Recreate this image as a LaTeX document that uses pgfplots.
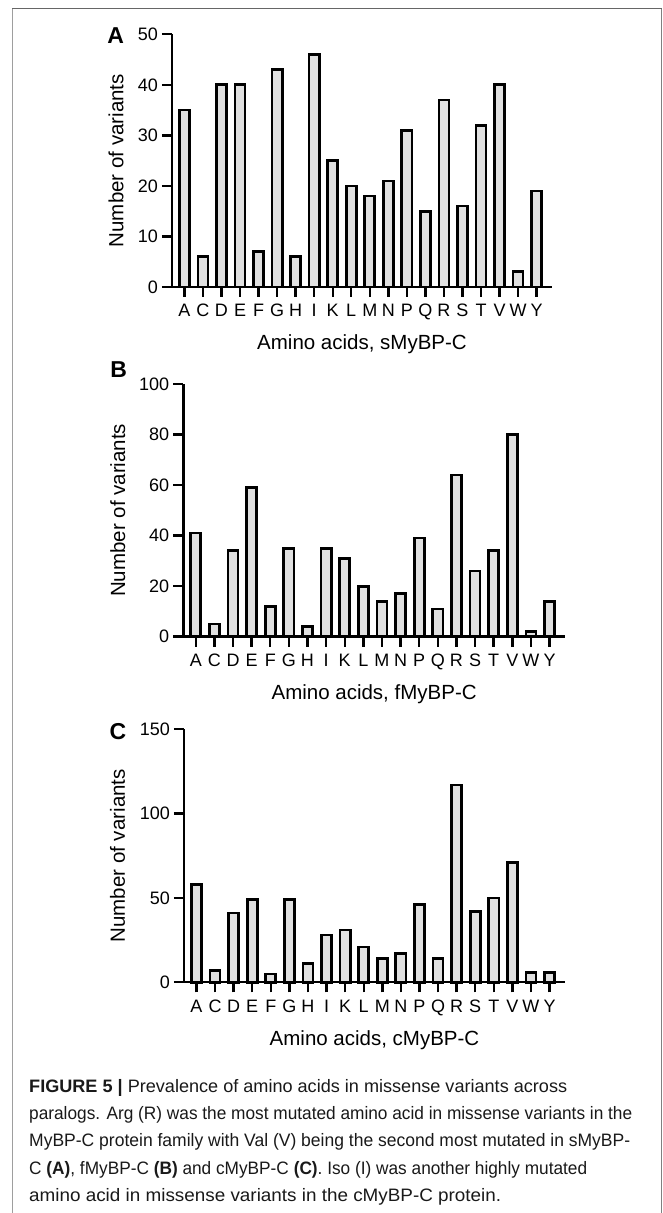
\documentclass[border=0pt]{standalone}
\usepackage{pgfplots}
\pgfplotsset{compat=1.18}
\usepackage{fontspec}
\setmainfont{Liberation Sans}
\definecolor{barfill}{HTML}{E0E0E0}
\pgfplotsset{
  panel/.style={
    scale only axis, ybar, bar width=10.1bp,
    xmin=-0.67, xmax=19.83, ymin=0,
    axis x line*=bottom, axis y line*=left,
    axis line style={line width=2.4bp, black, -},
    xtick={0,...,19},
    xticklabels={A,C,D,E,F,G,H,I,K,L,M,N,P,Q,R,S,T,V,W,Y},
    tick align=outside, major tick length=10bp,
    tick style={line width=2.4bp, black},
    minor tick num=0,
    /pgf/number format/assume math mode=true,
    ticklabel style={font=\fontsize{18bp}{18bp}\selectfont},
    xticklabel style={anchor=base, yshift=-20bp},
    yticklabel style={anchor=east, inner sep=0pt, xshift=-4bp},
    label style={font=\fontsize{20.5bp}{20.5bp}\selectfont},
    xlabel style={at={(axis description cs:0.5,0)}, anchor=base, yshift=-63bp},
    ylabel={Number of variants},
    cycle list={{draw=black, fill=barfill, line width=2.7bp}},
    clip=false,
  },
  barstyle/.style={draw=black, fill=barfill, line width=2.7bp},
}
\newcommand\capline[2]{\resizebox{#1}{\height}{#2}}
\begin{document}
\begin{tikzpicture}
\path[use as bounding box] (0,0) rectangle (663bp,1213bp);
% frame
\draw[color=black!38, line width=1.3bp] (12.7bp,0) -- (12.7bp,1204.4bp);
\draw[color=black!60, line width=1.4bp] (12.2bp,1204.4bp) -- (662bp,1204.4bp);
\draw[color=black!50, line width=1.3bp] (661.6bp,1204.4bp) -- (661.6bp,0);

% Panel A
\begin{axis}[panel, at={(172bp,926bp)}, anchor=south west,
  width=380bp, height=252.7bp, ymax=50, ytick={0,10,...,50},
  xlabel={Amino acids, sMyBP-C},
  ylabel style={at={(axis description cs:-0.128,0.5)}, anchor=base}]
\addplot[barstyle] coordinates {(0,35) (1,6) (2,40) (3,40) (4,7) (5,43) (6,6) (7,46) (8,25) (9,20)
 (10,18) (11,21) (12,31) (13,15) (14,37) (15,16) (16,32) (17,40) (18,3) (19,19)};
\end{axis}

% Panel B
\begin{axis}[panel, at={(183.3bp,576.3bp)}, anchor=south west,
  width=381.7bp, height=252.7bp, ymax=100, ytick={0,20,...,100},
  xlabel={Amino acids, fMyBP-C},
  ylabel style={at={(axis description cs:-0.1527,0.5)}, anchor=base}]
\addplot[barstyle] coordinates {(0,41) (1,5) (2,34) (3,59) (4,12) (5,35) (6,4) (7,35) (8,31) (9,20)
 (10,14) (11,17) (12,39) (13,11) (14,64) (15,26) (16,34) (17,80) (18,2) (19,14)};
\end{axis}

% Panel C
\begin{axis}[panel, at={(184bp,230.7bp)}, anchor=south west,
  width=381bp, height=253bp, ymax=150, ytick={0,50,100,150},
  xlabel={Amino acids, cMyBP-C},
  ylabel style={at={(axis description cs:-0.155,0.5)}, anchor=base}]
\addplot[barstyle] coordinates {(0,58) (1,7) (2,41) (3,49) (4,5) (5,49) (6,11) (7,28) (8,31) (9,21)
 (10,14) (11,17) (12,46) (13,14) (14,117) (15,42) (16,50) (17,71) (18,6) (19,6)};
\end{axis}

% panel letters
\node[anchor=base, inner sep=0pt, font=\fontsize{23bp}{23bp}\selectfont\bfseries] at (115.8bp,1169.7bp) {A};
\node[anchor=base, inner sep=0pt, font=\fontsize{23bp}{23bp}\selectfont\bfseries] at (118.7bp,835.7bp) {B};
\node[anchor=base, inner sep=0pt, font=\fontsize{23bp}{23bp}\selectfont\bfseries] at (118bp,473bp) {C};

% caption
\begin{scope}[every node/.style={anchor=base west, inner sep=0pt, font=\fontsize{18bp}{18bp}\selectfont, text=black!90}]
\node at (29bp,120bp) {\capline{538bp}{\textbf{FIGURE 5 |} Prevalence of amino acids in missense variants across}};
\node at (29bp,93bp) {\capline{603bp}{paralogs. Arg (R) was the most mutated amino acid in missense variants in the}};
\node at (29bp,66bp) {\capline{601bp}{MyBP-C protein family with Val (V) being the second most mutated in sMyBP-}};
\node at (29bp,39bp) {\capline{558bp}{C \textbf{(A)}, fMyBP-C \textbf{(B)} and cMyBP-C \textbf{(C)}. Iso (I) was another highly mutated}};
\node at (29bp,12bp) {\capline{472bp}{amino acid in missense variants in the cMyBP-C protein.}};
\end{scope}
\end{tikzpicture}
\end{document}
